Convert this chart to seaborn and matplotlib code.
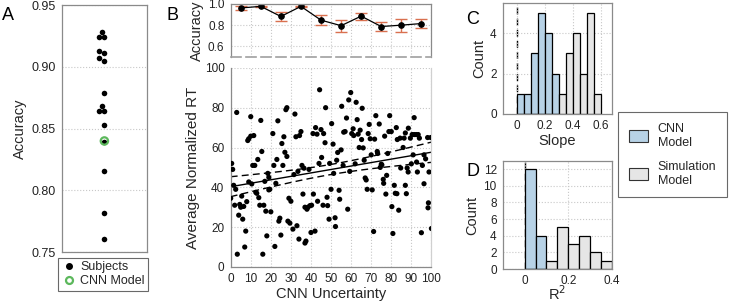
import numpy as np
import pandas as pd
import matplotlib
matplotlib.use("Agg")
import matplotlib.pyplot as plt
from matplotlib.lines import Line2D
from matplotlib.patches import Patch
from matplotlib.ticker import MultipleLocator
import seaborn as sns

sns.set_theme(style="white")
plt.rcParams['font.family'] = ['Liberation Sans', 'DejaVu Sans']

# ---------------- data ----------------
subject_acc = [0.928, 0.924, 0.924, 0.913, 0.911, 0.907, 0.905, 0.879, 0.868,
               0.864, 0.864, 0.853, 0.839, 0.816, 0.782, 0.761]
cnn_acc = [0.840]

bin_centers = [5, 15, 25, 35, 45, 55, 65, 75, 85, 95]
bin_acc = [0.962, 0.977, 0.882, 0.977, 0.847, 0.795, 0.885, 0.787, 0.800, 0.815]
bin_err = [0.020, 0.008, 0.040, 0.008, 0.045, 0.055, 0.032, 0.045, 0.060, 0.040]

uncertainty = [0, 0.5, 1, 1.5, 2, 2.5, 3, 3.3, 4, 4.5,
               5, 5.5, 6, 6.5, 7, 7.5, 8, 8.5, 9, 9,
               10, 10, 10.5, 11, 11.5, 12, 12.5, 13, 13.5, 14,
               14.5, 15, 15.5, 16, 16.5, 17, 17.5, 18, 18.5, 19,
               19, 19.5, 20, 21, 21.5, 22, 22.5, 23, 23.5, 24,
               24.5, 25, 25.5, 26, 26.5, 27, 27.5, 28, 28, 28.5,
               29, 29.5, 30, 31, 31.5, 32, 32.5, 33, 33.5, 34,
               34.3, 35, 35.5, 36, 36.5, 37, 37.5, 37, 38, 38.5,
               39, 39.5, 40, 40.3, 41, 41.2, 42, 42.3, 43, 43.3,
               44, 44.3, 45, 45.3, 46, 46.3, 47, 47.3, 48, 48.3,
               49, 49.3, 50, 50.3, 51, 51.3, 52, 52.2, 52.8, 53.3,
               54, 54.3, 55, 55.3, 56, 56.3, 57, 57.7, 58.3, 58.8,
               59.3, 59.8, 60.3, 61, 61.3, 62, 62.5, 63, 63.5, 64,
               64.5, 65.2, 65.5, 66, 66.5, 67, 67.5, 68, 68.5, 69,
               69.5, 70, 70.5, 71.2, 71.7, 72.3, 73, 73.2, 74, 74.5,
               75, 75.3, 76, 76.2, 76.7, 77.3, 77.7, 78.2, 78.8, 79.2,
               80, 80.3, 80.8, 81.5, 82, 82.5, 83, 83.7, 84.4, 86.4,
               87, 88.5, 89.5, 90.4, 91.4, 91.4, 92.4, 93.4, 94, 85.9,
               90.9, 96.3, 97.1, 99.7, 98.1, 92.6, 90, 95.5, 87.9, 84.7,
               93, 88.4, 98.8, 96.3, 87, 82.8, 87.5, 98.5, 98.3, 95,
               100]
norm_rt = [34.5, 52, 49, 41, 31, 39, 77.6, 6.4, 26, 31.4,
           30, 35.6, 24, 30.4, 10, 18, 32.8, 63.5, 64.4, 42.7,
           75.5, 65.7, 41.7, 51, 66, 51, 37.5, 37, 54, 34.8,
           31, 73.6, 58, 6.4, 31, 43, 28, 15.6, 47, 45,
           38.7, 39, 27.7, 67, 51, 10.3, 42, 54, 73.4, 23,
           24.5, 16, 62, 51, 65.4, 57.6, 79, 80, 55.5, 23,
           34.5, 22, 33, 19, 46.4, 76.8, 65.4, 20.7, 48, 14,
           66, 68, 51, 36.6, 49.6, 12, 13, 30, 29, 30,
           49, 30.8, 17.3, 31, 67, 36.6, 18, 70, 66.7, 33,
           52, 89, 69, 55, 31, 67, 62.4, 80, 35, 30.8,
           24, 52, 39, 72, 61.7, 47, 24.7, 20.3, 53.6, 57.5,
           38.5, 34, 58.8, 80.7, 51, 67.7, 68, 74.8, 29, 83.9,
           48, 87.6, 67, 69.4, 66, 51.8, 82.7, 74, 66.7, 60,
           68.7, 64, 79.7, 59.8, 53.6, 44.7, 43.7, 39, 67, 71.6,
           64.4, 56.3, 38.7, 17.8, 64.2, 76, 58, 57, 71.8, 50,
           51.6, 51.3, 44, 42, 65.7, 36.6, 46, 57, 68, 76,
           68, 30.3, 16.8, 41, 37, 70, 64, 28.5, 64.7, 64.7,
           67.3, 69.7, 64.7, 66.5, 75, 66.5, 66.5, 66.5, 64.7, 60,
           56.3, 56.3, 54.3, 65, 65, 52.7, 51.8, 51, 49.7, 49.7,
           47.7, 47.7, 47.7, 41.8, 41, 36.8, 36.8, 32.2, 29.7, 17.2,
           19.3]

slope_bins = [0.025, 0.075, 0.125, 0.175, 0.225, 0.275, 0.325, 0.375, 0.425, 0.475, 0.525, 0.575]
slope_cnn_counts = [1, 1, 3, 5, 4, 2, 0, 0, 0, 0, 0, 0]
slope_sim_counts = [0, 0, 0, 0, 0, 0, 1, 3, 4, 2, 5, 1]

r2_bins = [0.025, 0.075, 0.125, 0.175, 0.225, 0.275, 0.325, 0.375]
r2_cnn_counts = [12, 4, 0, 0, 0, 0, 0, 0]
r2_sim_counts = [0, 0, 1, 5, 3, 4, 2, 1]

# ---------------- style ----------------
SPINE = '#8a8a8a'
GRID = '#c8c8c8'
BLUE = '#b7d2e6'
GRAY = '#e6e6e6'
ERR = '#d9704f'
GREEN = '#5cb85c'
FS_T = 8.5
FS_L = 10.5

fig = plt.figure(figsize=(7.30, 3.03), dpi=100)


def style(ax, spines=('left', 'bottom', 'top', 'right')):
    for s in ['left', 'bottom', 'top', 'right']:
        ax.spines[s].set_visible(s in spines)
        ax.spines[s].set_color(SPINE)
        ax.spines[s].set_linewidth(0.9)
    ax.tick_params(which='both', direction='out', color=SPINE, labelsize=FS_T,
                   labelcolor='#222222', pad=1.0)
    ax.tick_params(which='major', length=3.5, width=0.8)
    ax.tick_params(which='minor', length=2, width=0.6)
    ax.grid(True, which='major', color=GRID, linestyle=':', linewidth=0.8)
    ax.set_axisbelow(True)


# ---------------- Panel A ----------------
axA = fig.add_axes([0.085, 0.168, 0.116, 0.815])
dfA = pd.DataFrame({'acc': subject_acc, 'g': 0})
sns.swarmplot(data=dfA, x='g', y='acc', ax=axA, color='black', size=4.0)
sns.scatterplot(x=[0] * len(cnn_acc), y=cnn_acc, ax=axA, s=28, facecolor='none',
                edgecolor=GREEN, linewidth=1.6, zorder=5)
axA.set_xlim(-0.6, 0.6)
axA.set_ylim(0.75, 0.95)
axA.yaxis.set_minor_locator(MultipleLocator(0.01))
axA.set_yticks([0.75, 0.80, 0.85, 0.90, 0.95])
axA.set_yticklabels(['0.75', '0.80', '0.85', '0.90', '0.95'])
style(axA)
axA.tick_params(axis='y', labelsize=FS_T + 0.5)
axA.set_xticks([])
axA.set_xlabel('')
axA.xaxis.grid(False)
axA.set_ylabel('Accuracy', fontsize=FS_L, labelpad=3)
handlesA = [Line2D([], [], marker='o', color='black', linestyle='none', markersize=4),
            Line2D([], [], marker='o', markerfacecolor='none', markeredgecolor=GREEN,
                   markeredgewidth=1.6, linestyle='none', markersize=5)]
legA = fig.legend(handlesA, ['Subjects', 'CNN Model'], loc='upper left',
                  bbox_to_anchor=(0.079, 0.150), fontsize=FS_T + 0.5, frameon=True,
                  fancybox=False, edgecolor='#444444', handletextpad=0.3,
                  borderpad=0.3, labelspacing=0.15, handlelength=1.2, borderaxespad=0)
legA.get_frame().set_linewidth(0.8)

# ---------------- Panel B top ----------------
axBt = fig.add_axes([0.316, 0.812, 0.275, 0.175])
sns.lineplot(x=bin_centers, y=bin_acc, ax=axBt, color='black', linewidth=0.9,
             marker='o', markersize=4, markeredgecolor='black')
axBt.errorbar(bin_centers, bin_acc, yerr=bin_err, fmt='none', ecolor=ERR,
              elinewidth=1.0, capsize=4, capthick=1.0, zorder=1)
axBt.set_xlim(0, 100)
axBt.set_ylim(0.5, 1.0)
axBt.xaxis.set_major_locator(MultipleLocator(10))
axBt.set_yticks([0.6, 0.8, 1.0])
axBt.yaxis.set_minor_locator(MultipleLocator(0.1))
style(axBt, spines=('left', 'bottom', 'top', 'right'))
axBt.spines['bottom'].set_linestyle((0, (6, 3)))
axBt.spines['bottom'].set_color('#a0a0a0')
axBt.spines['bottom'].set_linewidth(1.2)
axBt.tick_params(axis='x', which='both', length=0, labelbottom=False)
axBt.set_ylabel('Accuracy', fontsize=FS_L, labelpad=3)

# ---------------- Panel B main ----------------
axB = fig.add_axes([0.316, 0.119, 0.275, 0.657])
dfB = pd.DataFrame({'unc': uncertainty, 'rt': norm_rt})
sns.scatterplot(data=dfB, x='unc', y='rt', ax=axB, color='black', s=14,
                edgecolor='none', zorder=3)
sns.regplot(data=dfB, x='unc', y='rt', ax=axB, scatter=False, ci=None,
            color='black', line_kws={'linewidth': 1.0})
# confidence band of the fit
xv = np.asarray(uncertainty, float)
yv = np.asarray(norm_rt, float)
b1, b0 = np.polyfit(xv, yv, 1)
res = yv - (b0 + b1 * xv)
n = len(xv)
s_err = np.sqrt(np.sum(res ** 2) / (n - 2))
xg = np.linspace(0, 100, 101)
se = s_err * np.sqrt(1 / n + (xg - xv.mean()) ** 2 / np.sum((xv - xv.mean()) ** 2))
half = 1.96 * se
sns.lineplot(x=xg, y=b0 + b1 * xg + half, ax=axB, color='black', linewidth=1.0,
             linestyle=(0, (5, 3)))
sns.lineplot(x=xg, y=b0 + b1 * xg - half, ax=axB, color='black', linewidth=1.0,
             linestyle=(0, (5, 3)))
axB.set_xlim(0, 100)
axB.set_ylim(0, 100)
axB.xaxis.set_major_locator(MultipleLocator(10))
axB.xaxis.set_minor_locator(MultipleLocator(5))
axB.yaxis.set_major_locator(MultipleLocator(20))
axB.yaxis.set_minor_locator(MultipleLocator(10))
style(axB, spines=('left', 'bottom', 'right'))
axB.spines['right'].set_color('#d0d0d0')
axB.set_xlabel('CNN Uncertainty', fontsize=FS_L, labelpad=1)
axB.set_ylabel('Average Normalized RT', fontsize=FS_L + 0.5, labelpad=3)

# ---------------- Panel C ----------------
axC = fig.add_axes([0.689, 0.624, 0.149, 0.366])
sns.histplot(x=slope_bins, weights=slope_cnn_counts, binwidth=0.05, binrange=(0, 0.6),
             ax=axC, color=BLUE, edgecolor='black', linewidth=0.9, alpha=1)
sns.histplot(x=slope_bins, weights=slope_sim_counts, binwidth=0.05, binrange=(0, 0.6),
             ax=axC, color=GRAY, edgecolor='black', linewidth=0.9, alpha=1)
axC.axvline(0, color='black', linestyle=(0, (5, 3)), linewidth=1.0, zorder=0.5)
axC.set_xlim(-0.1, 0.68)
axC.set_ylim(0, 5.5)
axC.set_xticks([0, 0.2, 0.4, 0.6])
axC.set_xticklabels(['0', '0.2', '0.4', '0.6'])
axC.set_yticks([0, 2, 4])
axC.yaxis.set_minor_locator(MultipleLocator(1))
style(axC)
axC.set_xlabel('Slope', fontsize=FS_L, labelpad=1)
axC.set_ylabel('Count', fontsize=FS_L, labelpad=3)

# ---------------- Panel D ----------------
axD = fig.add_axes([0.689, 0.112, 0.149, 0.357])
sns.histplot(x=r2_bins, weights=r2_cnn_counts, binwidth=0.05, binrange=(0, 0.4),
             ax=axD, color=BLUE, edgecolor='black', linewidth=0.9, alpha=1)
sns.histplot(x=r2_bins, weights=r2_sim_counts, binwidth=0.05, binrange=(0, 0.4),
             ax=axD, color=GRAY, edgecolor='black', linewidth=0.9, alpha=1)
axD.axvline(0, color='black', linestyle=(0, (5, 3)), linewidth=1.0, zorder=0.5)
axD.set_xlim(-0.1, 0.4)
axD.set_ylim(0, 13)
axD.set_xticks([0, 0.2, 0.4])
axD.set_xticklabels(['0', '0.2', '0.4'])
axD.set_yticks([0, 2, 4, 6, 8, 10, 12])
axD.yaxis.set_minor_locator(MultipleLocator(1))
style(axD)
axD.set_xlabel('R$^2$', fontsize=FS_L, labelpad=-2)
axD.set_ylabel('Count', fontsize=FS_L, labelpad=3)

# ---------------- legend right ----------------
handlesR = [Patch(facecolor=BLUE, edgecolor='#333333', linewidth=0.8),
            Patch(facecolor=GRAY, edgecolor='#333333', linewidth=0.8)]
legR = fig.legend(handlesR, ['CNN\nModel', 'Simulation\nModel'], loc='upper right',
                  bbox_to_anchor=(0.996, 0.630), fontsize=FS_T + 0.5, frameon=True,
                  fancybox=False, edgecolor='#444444', handlelength=1.5,
                  handleheight=1.1, handletextpad=0.8, borderpad=0.85,
                  labelspacing=1.0, borderaxespad=0)
legR.get_frame().set_linewidth(0.8)

# ---------------- panel letters ----------------
for lbl, (px, py) in {'A': (2, 20), 'B': (166, 20), 'C': (466, 24), 'D': (466, 176)}.items():
    fig.text(px / 730, 1 - py / 303, lbl, fontsize=13, color='black', ha='left',
             va='baseline')

fig.savefig('out.png', dpi=100)
